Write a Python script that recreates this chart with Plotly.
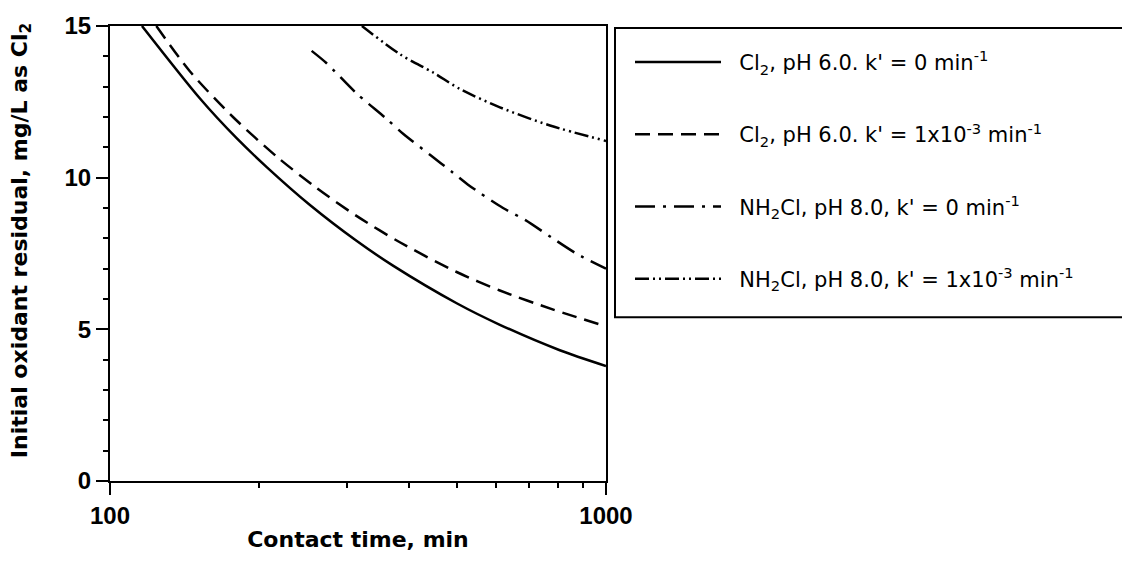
import plotly.graph_objects as go

# ---- data ----
t_cl2_k0 = [116, 152, 180, 207, 253, 314, 372, 500, 611, 807, 1000]
r_cl2_k0 = [15.0, 12.6, 11.3, 10.35, 9.1, 7.92, 7.1, 5.86, 5.15, 4.31, 3.79]

t_cl2_k3 = [124, 145, 177, 217, 261, 314, 384, 500, 611, 783, 1000]
r_cl2_k3 = [15.0, 13.5, 12.0, 10.69, 9.66, 8.74, 7.87, 6.89, 6.28, 5.65, 5.10]

t_nh2_k0 = [255, 273, 314, 361, 391, 443, 490, 527, 620, 688, 776, 873, 1000]
r_nh2_k0 = [14.18, 13.78, 12.78, 11.94, 11.43, 10.74, 10.18, 9.77, 9.0, 8.6, 8.03, 7.49, 7.0]

t_nh2_k3 = [322, 385, 449, 508, 611, 771, 1000]
r_nh2_k3 = [15.0, 14.06, 13.46, 12.92, 12.32, 11.72, 11.21]

names = [
    "Cl<sub>2</sub>, pH 6.0. k' = 0 min<sup>-1</sup>",
    "Cl<sub>2</sub>, pH 6.0. k' = 1x10<sup>-3</sup> min<sup>-1</sup>",
    "NH<sub>2</sub>Cl, pH 8.0, k' = 0 min<sup>-1</sup>",
    "NH<sub>2</sub>Cl, pH 8.0, k' = 1x10<sup>-3</sup> min<sup>-1</sup>",
]
x_major = [100, 1000]
x_minor = [200, 300, 400, 500, 600, 700, 800, 900]
y_major = [0, 5, 10, 15]
x_title = "Contact time, min"
y_title = "Initial oxidant residual, mg/L as Cl<sub>2</sub>"

series = [
    (t_cl2_k0, r_cl2_k0, "solid"),
    (t_cl2_k3, r_cl2_k3, "15px,8px"),
    (t_nh2_k0, r_nh2_k0, "20px,8px,3px,8px"),
    (t_nh2_k3, r_nh2_k3, "14px,4px,2px,4px,2px,4px"),
]

fig = go.Figure()
for i, ((tx, ry, dash), nm) in enumerate(zip(series, names)):
    fig.add_trace(go.Scatter(
        x=tx, y=ry, mode="lines", name="&nbsp;&nbsp;" + nm, legendgroup=f"g{i}",
        line=dict(color="black", width=2.5, dash=dash, shape="spline", smoothing=0.8),
    ))

W, H = 1122, 569
L, R, T, B = 110, 516, 20, 88
pw, ph = W - L - R, H - T - B

def px_x(p):
    return (p - L) / pw

def px_y(p):
    return 1 - (p - T) / ph

fig.add_shape(type="rect", xref="paper", yref="paper",
              x0=px_x(615), x1=px_x(1130), y0=px_y(315), y1=px_y(22),
              line=dict(color="black", width=2), fillcolor="rgba(0,0,0,0)")

BOLD = "DejaVu Sans, Verdana, sans-serif"
fig.add_annotation(
    text="<b>" + y_title + "</b>", textangle=-90,
    xref="paper", yref="paper", x=px_x(21), y=px_y(238),
    xanchor="center", yanchor="middle", showarrow=False,
    font=dict(size=22, family=BOLD, color="black"),
)

fig.update_layout(
    width=W, height=H,
    margin=dict(l=L, r=R, t=T, b=B),
    paper_bgcolor="white", plot_bgcolor="white",
    font=dict(family="Liberation Sans, Arial, sans-serif", color="black"),
    showlegend=True,
    legend=dict(
        x=px_x(630), y=px_y(36), xanchor="left", yanchor="top",
        font=dict(size=21, family="DejaVu Sans, sans-serif", color="black"),
        itemwidth=86, tracegroupgap=42, bgcolor="rgba(0,0,0,0)",
        borderwidth=0, traceorder="grouped",
    ),
    xaxis=dict(
        type="log", range=[2, 3],
        tickvals=x_major, ticktext=[str(v) for v in x_major],
        ticks="outside", ticklen=12, tickwidth=2, tickcolor="black",
        showline=True, linecolor="black", linewidth=2, mirror=True,
        showgrid=False, zeroline=False,
        tickfont=dict(size=24, family="Liberation Sans, Arial, sans-serif", weight="bold"),
        minor=dict(tickvals=x_minor, ticks="outside", ticklen=5, tickwidth=2, tickcolor="black", showgrid=False),
        title=dict(text="<b>" + x_title + "</b>", font=dict(size=22, family=BOLD), standoff=4),
    ),
    yaxis=dict(
        range=[0, 15],
        tickvals=y_major,
        ticks="outside", ticklen=12, tickwidth=2, tickcolor="black",
        showline=True, linecolor="black", linewidth=2, mirror=True,
        showgrid=False, zeroline=False,
        tickfont=dict(size=24, family="Liberation Sans, Arial, sans-serif", weight="bold"),
        minor=dict(dtick=1, ticks="outside", ticklen=5, tickwidth=2, tickcolor="black", showgrid=False),
    ),
)

fig.write_html("out.html")
